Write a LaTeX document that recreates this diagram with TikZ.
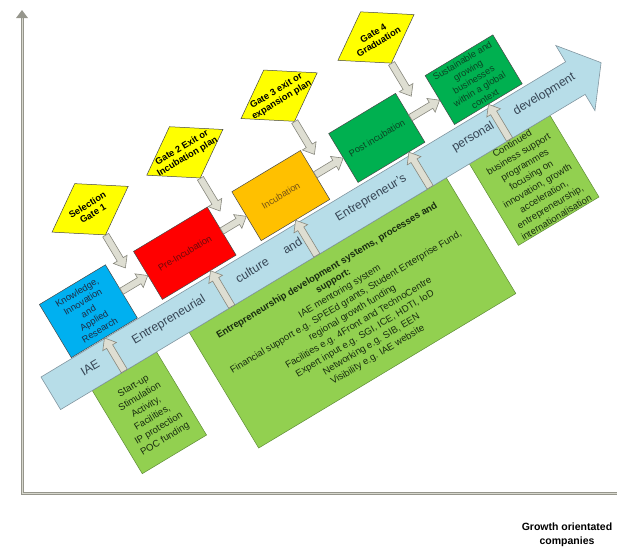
\documentclass[tikz,border=0pt]{standalone}
\usepackage{fontspec}
\setmainfont{Liberation Sans}
\usetikzlibrary{calc,shapes.geometric}
\definecolor{bandfill}{RGB}{183,221,232}
\definecolor{bandline}{RGB}{130,150,160}
\definecolor{bandtext}{RGB}{55,70,85}
\definecolor{lime}{RGB}{146,208,80}
\definecolor{limeline}{RGB}{95,140,55}
\definecolor{limetext}{RGB}{25,45,15}
\definecolor{kblue}{RGB}{0,176,240}
\definecolor{kred}{RGB}{255,0,0}
\definecolor{korange}{RGB}{255,192,0}
\definecolor{kgreen}{RGB}{0,176,80}
\definecolor{kyellow}{RGB}{255,255,0}
\definecolor{boxline}{RGB}{70,70,70}
\definecolor{tblue}{RGB}{30,45,70}
\definecolor{tred}{RGB}{110,10,10}
\definecolor{torange}{RGB}{120,85,20}
\definecolor{tgreen}{RGB}{10,70,35}
\definecolor{arrfill}{RGB}{222,222,210}
\definecolor{arrline}{RGB}{135,135,125}
\definecolor{axisdark}{RGB}{150,150,140}
\definecolor{axislight}{RGB}{215,215,205}
\newcommand\myarrow[2]{%
  \coordinate (bah) at ($(#2)!10pt!(#1)$);
  \draw[blockarr] ($(#1)!3.5pt!90:(#2)$) -- ($(bah)!3.5pt!90:(#2)$) -- ($(bah)!8pt!90:(#2)$) -- (#2) -- ($(bah)!8pt!-90:(#2)$) -- ($(bah)!3.5pt!-90:(#2)$) -- ($(#1)!3.5pt!-90:(#2)$) -- cycle;
}
\begin{document}
\begin{tikzpicture}[x=1pt,y=-1pt,
  box/.style={draw=boxline, line width=0.5pt, inner sep=1pt, align=center, transform shape, font=\fontsize{9.3}{11}\selectfont},
  gate/.style={draw=boxline, line width=0.5pt, fill=kyellow, diamond, inner sep=0pt, minimum width=89pt, minimum height=60pt, transform shape},
  gatetext/.style={transform shape, align=center, font=\bfseries\fontsize{9.3}{10.5}\selectfont},
  support/.style={draw=limeline, fill=lime, line width=0.5pt, inner sep=1pt, align=center, transform shape, text=limetext, font=\fontsize{9.6}{12.3}\selectfont},
  bandlabel/.style={transform shape, text=bandtext, font=\fontsize{12.2}{14}\selectfont},
  blockarr/.style={draw=arrline, fill=arrfill, line width=0.6pt, line join=miter},
]
\useasboundingbox (0,0) rectangle (617,547);
% axes
\draw[axisdark, line width=3pt] (22,16) -- (22,493) -- (617,493);
\draw[axislight, line width=1pt] (22,16) -- (22,493) -- (617,493);
\fill[axisdark] (16,18) -- (22,10) -- (28,18) -- cycle;
\begin{scope}[shift={(41,377)}, rotate=31]
  % support boxes below the band
  \node[support, minimum width=300pt, minimum height=135pt] (big) at (300,105.5) {\textbf{Entrepreneurship development systems, processes and}\\\textbf{support:}\\IAE mentoring system\\Financial support e.g. SPEEd grants, Student Enterprise Fund,\\regional growth funding\\Facilities e.g. 4Front and TechnoCentre\\Expert input e.g. SGI, ICE, HDTI, IoD\\Networking e.g. SIB, EEN\\Visibility e.g. IAE website};
  \node[support, minimum width=75pt, minimum height=97pt] (su) at (74.5,86.5) {Start-up\\Stimulation\\Activity,\\Facilities,\\IP protection\\POC funding};
  \node[support, minimum width=94pt, minimum height=95pt] (cont) at (524,85.5) {Continued\\business support\\programmes\\focusing on\\innovation, growth\\acceleration,\\entrepreneurship,\\internationalisation};
  % band
  \draw[fill=bandfill, draw=bandline, line width=0.6pt] (0,0) -- (612,0) -- (612,-19) -- (642,19) -- (612,57) -- (612,38) -- (0,38) -- cycle;
  \node[bandlabel] (l1) at (47,17) {IAE};
  \node[bandlabel] (l2) at (139,17) {Entrepreneurial};
  \node[bandlabel] (l3) at (236,17) {culture};
  \node[bandlabel] (l4) at (283,17) {and};
  \node[bandlabel] (l5) at (375,17) {Entrepreneur's};
  \node[bandlabel] (l6) at (494,17) {personal};
  \node[bandlabel] (l7) at (577,17) {development};
  % stage boxes
  \node[box, fill=kblue, text=tblue, minimum width=77pt, minimum height=62pt] (kn) at (74.5,-32) {Knowledge,\\Innovation\\and\\Applied\\Research};
  \node[box, fill=kred, text=tred, minimum width=86pt, minimum height=56pt] (pre) at (187,-32) {Pre-Incubation};
  \node[box, fill=korange, text=torange, minimum width=80pt, minimum height=57pt] (inc) at (299,-32) {Incubation};
  \node[box, fill=kgreen, text=tgreen, minimum width=78pt, minimum height=57pt] (post) at (411,-32) {Post incubation};
  \node[box, fill=kgreen, text=tgreen, minimum width=79pt, minimum height=57pt] (sust) at (524,-32) {Sustainable and\\growing\\businesses\\within a global\\context};
  % gates
  \node[gate] (g1) at (128.5,-118.5) {};
  \node[gatetext] (g1t) at (g1) {Selection\\Gate 1};
  \node[gate] (g2) at (239,-118.5) {};
  \node[gatetext] (g2t) at (g2) {Gate 2 Exit or\\Incubation plan};
  \node[gate] (g3) at (349,-118.5) {};
  \node[gatetext] (g3t) at (g3) {Gate 3 exit or\\expansion plan};
  \node[gate] (g4) at (462,-118.5) {};
  \node[gatetext] (g4t) at (g4) {Gate 4\\Graduation};
  % gate arrows
  \coordinate (t1) at (128.5,-50);
  \coordinate (t2) at (239,-50);
  \coordinate (t3) at (349,-50);
  \coordinate (t4) at (462,-50);
  \myarrow{g1.south}{t1}
  \myarrow{g2.south}{t2}
  \myarrow{g3.south}{t3}
  \myarrow{g4.south}{t4}
  % stage arrows
  \myarrow{kn.east}{pre.west}
  \myarrow{pre.east}{inc.west}
  \myarrow{inc.east}{post.west}
  \myarrow{post.east}{sust.west}
  % support arrows
  \coordinate (b2) at ($(big.north west)!0.1667!(big.north east)$);
  \coordinate (e2) at ($(pre.south west)!0.651!(pre.south east)$);
  \coordinate (b3) at ($(big.north west)!0.497!(big.north east)$);
  \coordinate (b4) at ($(big.north west)!0.937!(big.north east)$);
  \coordinate (e4) at ($(post.south west)!0.756!(post.south east)$);
  \myarrow{su.north}{kn.south}
  \myarrow{b2}{e2}
  \myarrow{b3}{inc.south}
  \myarrow{b4}{e4}
  \myarrow{cont.north}{sust.south}
\end{scope}
\node[font=\bfseries\fontsize{10.5}{14}\selectfont, align=center] (gc) at (567,535) {Growth orientated\\companies};
\end{tikzpicture}
\end{document}
